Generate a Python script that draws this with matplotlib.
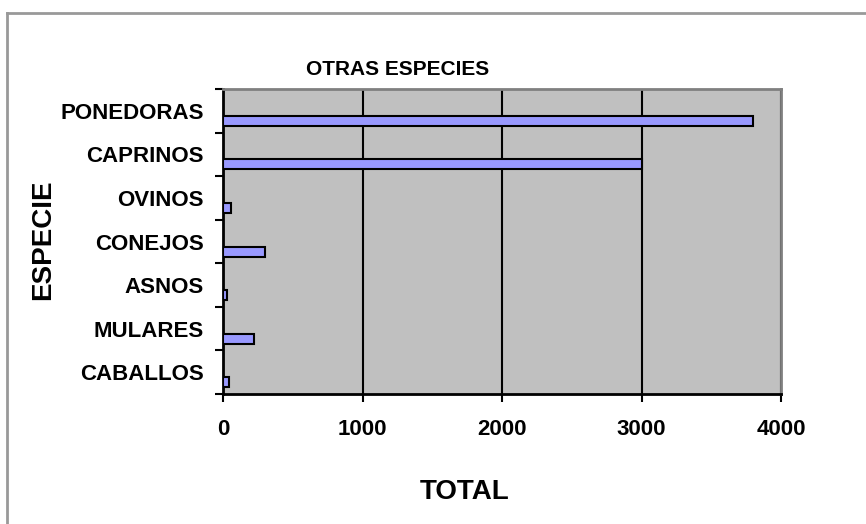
import numpy as np
import matplotlib
matplotlib.use('Agg')
import matplotlib.pyplot as plt
from matplotlib.lines import Line2D

plt.rcParams['font.family'] = ['Liberation Sans', 'DejaVu Sans']
plt.rcParams['font.weight'] = 'bold'

especies = ['CABALLOS', 'MULARES', 'ASNOS', 'CONEJOS', 'OVINOS', 'CAPRINOS', 'PONEDORAS']
totales = [45, 220, 30, 300, 55, 3000, 3800]
xticks = [0, 1000, 2000, 3000, 4000]

fig = plt.figure(figsize=(8.66, 5.24), dpi=100)
ax = fig.add_axes([223/866, 1-394/524, (781-223)/866, (394-89)/524])
ax.set_facecolor('#C0C0C0')

y = np.arange(len(especies))
ax.barh(y - 0.23, totales, height=0.23, color='#9999FF', edgecolor='black', linewidth=1.5, zorder=3)

ax.set_xlim(0, 4000)
ax.set_ylim(-0.5, len(especies) - 0.5)
ax.set_xticks(xticks)
ax.set_xticklabels([str(v) for v in xticks], fontsize=16, fontweight='bold')
ax.grid(axis='x', color='black', linewidth=1.5, zorder=1)

ax.set_yticks(np.arange(len(especies) + 1) - 0.5)
ax.set_yticklabels([])
ax.set_yticks(y, minor=True)
ax.set_yticklabels(especies, minor=True, fontsize=16, fontweight='bold')
ax.tick_params(axis='y', which='major', direction='out', length=6, width=1.5)
ax.tick_params(axis='y', which='minor', length=0, pad=14)
ax.tick_params(axis='x', direction='out', length=6, width=1.5, pad=12)

for s in ['left', 'bottom']:
    ax.spines[s].set_color('black')
    ax.spines[s].set_linewidth(2)
for s in ['top', 'right']:
    ax.spines[s].set_color('#808080')
    ax.spines[s].set_linewidth(2)

# title sits left of the plot centre, as in the original
ax.set_title('OTRAS ESPECIES', fontsize=15, fontweight='bold', pad=10, x=(398-223)/558)
ax.set_xlabel('TOTAL', fontsize=20, fontweight='bold')
ax.xaxis.set_label_coords(465/866, 1-492/524, transform=fig.transFigure)
ax.xaxis.label.set_va('center')
ax.set_ylabel('ESPECIE', fontsize=20, fontweight='bold')
ax.yaxis.set_label_coords(43/866, 1-240/524, transform=fig.transFigure)
ax.yaxis.label.set_va('center')

# outer chart border
fig.add_artist(Line2D([7/866, 7/866], [0, 1-13/524], color='#999999', linewidth=2))
fig.add_artist(Line2D([7/866, 1], [1-13/524, 1-13/524], color='#999999', linewidth=2))

fig.savefig('out.png', dpi=100)
plt.close(fig)
